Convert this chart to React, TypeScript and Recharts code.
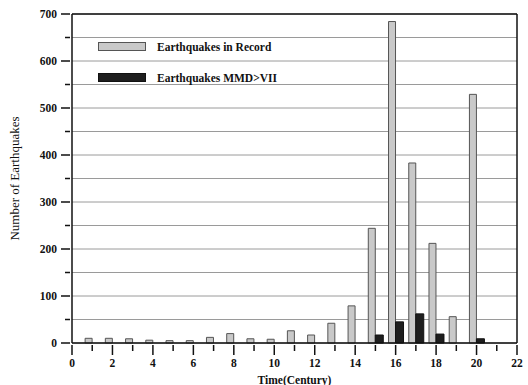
import React from 'react';
import {
  BarChart,
  Bar,
  XAxis,
  YAxis,
  CartesianGrid,
  ReferenceLine,
  Label,
} from 'recharts';

const centuries = [1, 2, 3, 4, 5, 6, 7, 8, 9, 10, 11, 12, 13, 14, 15, 16, 17, 18, 19, 20, 21];
const inRecord = [10, 10, 9, 6, 5, 5, 12, 20, 9, 8, 26, 17, 42, 79, 244, 684, 383, 212, 56, 529, 0];
const mmdVII = [0, 0, 0, 0, 0, 0, 0, 0, 0, 0, 0, 0, 0, 0, 17, 45, 62, 19, 0, 9, 0];

const xTicks = [0, 1, 2, 3, 4, 5, 6, 7, 8, 9, 10, 11, 12, 13, 14, 15, 16, 17, 18, 19, 20, 21, 22];
const yTicks = [0, 50, 100, 150, 200, 250, 300, 350, 400, 450, 500, 550, 600, 650, 700];

const data = centuries.map((c, i) => ({ century: c, record: inRecord[i], mmd: mmdVII[i] }));

const FONT = '"Liberation Serif", "DejaVu Serif", serif';
const GREY = '#c9c9c9';
const DARK = '#1e1e1e';

// odd centuries get a short unlabeled tick
const XTick = (props: any) => {
  const { x, y, payload } = props;
  const major = payload.value % 2 === 0;
  return (
    <g>
      <line x1={x} x2={x} y1={y - 8} y2={y - 8 + (major ? 10 : 6)} stroke="#111" strokeWidth={1.5} />
      {major && (
        <text x={x} y={y + 14} textAnchor="middle" fontFamily={FONT} fontWeight="bold" fontSize={11.5} fill="#111">
          {payload.value}
        </text>
      )}
    </g>
  );
};

const YTick = (props: any) => {
  const { x, y, payload } = props;
  const major = payload.value % 100 === 0;
  const ax = x + 8;
  return (
    <g>
      <line x1={ax - (major ? 9 : 5)} x2={ax} y1={y} y2={y} stroke="#111" strokeWidth={1.5} />
      {major && (
        <text x={ax - 13} y={y + 4} textAnchor="end" fontFamily={FONT} fontWeight="bold" fontSize={11.5} fill="#111">
          {payload.value}
        </text>
      )}
    </g>
  );
};

const LegendBox = () => (
  <div style={{ position: 'absolute', left: 98, top: 39, fontFamily: FONT, fontWeight: 'bold', fontSize: 11.5, color: '#111' }}>
    <div style={{ display: 'flex', alignItems: 'center', height: 15 }}>
      <div style={{ width: 46, height: 7, background: GREY, border: '1px solid #555' }} />
      <span style={{ marginLeft: 11 }}>Earthquakes in Record</span>
    </div>
    <div style={{ display: 'flex', alignItems: 'center', height: 15, marginTop: 16 }}>
      <div style={{ width: 46, height: 7, background: DARK, border: '1px solid #111' }} />
      <span style={{ marginLeft: 11 }}>Earthquakes MMD&gt;VII</span>
    </div>
  </div>
);

export default function App() {
  return (
    <div style={{ position: 'absolute', left: 0, top: 0, width: 528, height: 385, background: '#fff' }}>
      <BarChart
        width={528}
        height={385}
        data={data}
        margin={{ top: 14, right: 11, left: 0, bottom: 0 }}
        barGap={0}
        barCategoryGap={0}
      >
        <CartesianGrid vertical={false} stroke="#9a9a9a" strokeWidth={1} />
        <XAxis
          dataKey="century"
          type="number"
          domain={[0, 22]}
          ticks={xTicks}
          interval={0}
          height={42}
          tickLine={false}
          tickSize={8}
          tick={<XTick />}
          axisLine={{ stroke: '#111', strokeWidth: 1.5 }}
        >
          <Label
            value="Time(Century)"
            position="insideBottom"
            offset={1}
            style={{ fontFamily: FONT, fontWeight: 'bold', fontSize: 11.5, fill: '#111' }}
          />
        </XAxis>
        <YAxis
          type="number"
          domain={[0, 700]}
          ticks={yTicks}
          interval={0}
          width={72}
          tickLine={false}
          tickSize={8}
          tick={<YTick />}
          axisLine={{ stroke: '#111', strokeWidth: 1.5 }}
        >
          <Label
            value="Number of Earthquakes"
            angle={-90}
            position="insideLeft"
            offset={14}
            style={{ fontFamily: FONT, fontSize: 13, fill: '#111', textAnchor: 'middle' }}
          />
        </YAxis>
        <ReferenceLine y={700} stroke="#111" strokeWidth={1.5} />
        <ReferenceLine x={22} stroke="#111" strokeWidth={1.5} />
        <Bar dataKey="record" name="Earthquakes in Record" fill={GREY} stroke="#555" strokeWidth={1} barSize={7} isAnimationActive={false} />
        <Bar dataKey="mmd" name="Earthquakes MMD>VII" fill={DARK} stroke="#111" strokeWidth={1} barSize={8} isAnimationActive={false} />
      </BarChart>
      <LegendBox />
    </div>
  );
}
